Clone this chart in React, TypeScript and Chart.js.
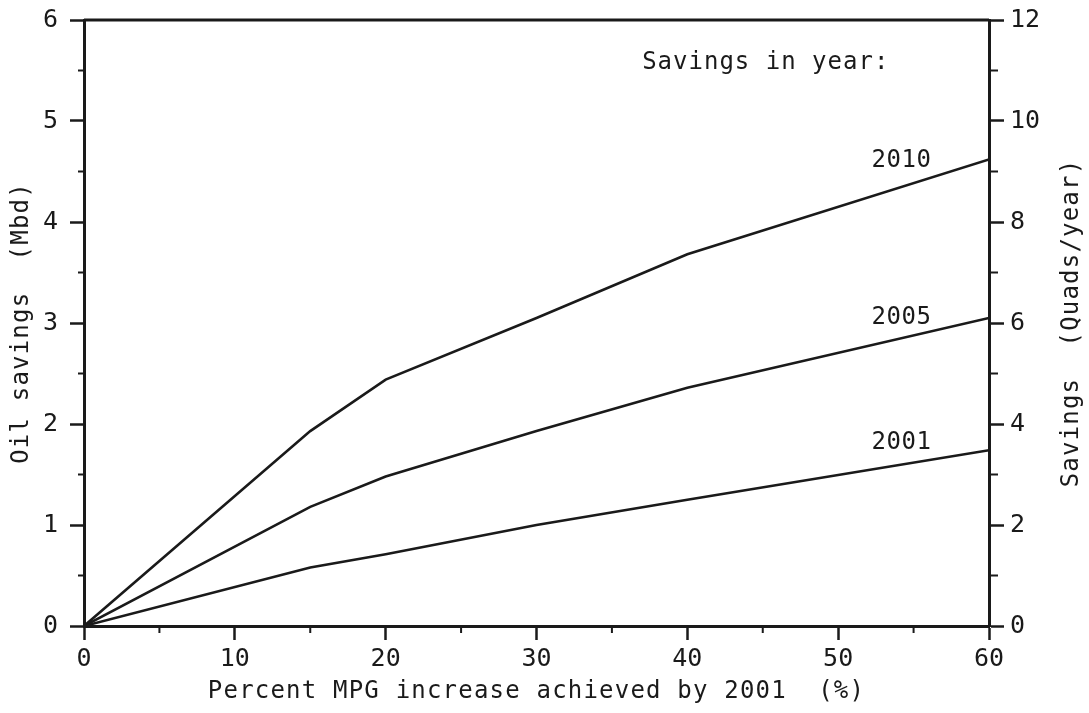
import React, { useEffect, useRef } from "react";
import { Chart, registerables } from "chart.js";

Chart.register(...registerables);

// ---- data ----
const mpgIncrease = [0, 15, 20, 30, 40, 60];
const savings2001 = [0, 0.58, 0.71, 1.0, 1.25, 1.74];
const savings2005 = [0, 1.18, 1.48, 1.93, 2.36, 3.05];
const savings2010 = [0, 1.93, 2.44, 3.05, 3.68, 4.62];
const seriesNames = ["2001", "2005", "2010"];

const leftTicks = [0, 1, 2, 3, 4, 5, 6];
const rightTicks = [0, 2, 4, 6, 8, 10, 12];
const xTicks = [0, 10, 20, 30, 40, 50, 60];
const leftMinor = [0.5, 1.5, 2.5, 3.5, 4.5, 5.5];
const rightMinor = [1, 3, 5, 7, 9, 11];
const xMinor = [5, 15, 25, 35, 45, 55];

const xTitle = "Percent MPG increase achieved by 2001  (%)";
const yTitle = "Oil savings  (Mbd)";
const y2Title = "Savings  (Quads/year)";
const legendTitle = "Savings in year:";

// annotation anchors in data units
const seriesLabelAt = { x: 54.2, y: [1.81, 3.05, 4.61] };
const legendTitleAt = { x: 45.2, y: 5.58 };

const INK = "#1a1a1a";
const FONT = "'DejaVu Sans Mono', monospace";

const setSpacing = (ctx: any, v: string) => {
  try {
    ctx.letterSpacing = v;
  } catch (e) {}
};

const decorPlugin = {
  id: "decor",
  afterDraw(chart: any) {
    const { ctx, chartArea } = chart;
    const x = chart.scales.x;
    const y = chart.scales.y;
    const y2 = chart.scales.y2;
    ctx.save();
    ctx.strokeStyle = INK;
    // top frame
    ctx.lineWidth = 3;
    ctx.beginPath();
    ctx.moveTo(chartArea.left, chartArea.top);
    ctx.lineTo(chartArea.right, chartArea.top);
    ctx.stroke();
    // minor ticks
    ctx.lineWidth = 2;
    ctx.beginPath();
    leftMinor.forEach((v) => {
      const p = y.getPixelForValue(v);
      ctx.moveTo(chartArea.left - 6, p);
      ctx.lineTo(chartArea.left, p);
    });
    rightMinor.forEach((v) => {
      const p = y2.getPixelForValue(v);
      ctx.moveTo(chartArea.right, p);
      ctx.lineTo(chartArea.right + 9, p);
    });
    xMinor.forEach((v) => {
      const p = x.getPixelForValue(v);
      ctx.moveTo(p, chartArea.bottom);
      ctx.lineTo(p, chartArea.bottom + 7);
    });
    ctx.stroke();

    ctx.fillStyle = INK;
    ctx.textAlign = "center";
    ctx.textBaseline = "middle";
    // series labels
    ctx.font = `24px ${FONT}`;
    setSpacing(ctx, "0.5px");
    seriesNames.forEach((name, i) => {
      ctx.fillText(
        name,
        x.getPixelForValue(seriesLabelAt.x),
        y.getPixelForValue(seriesLabelAt.y[i])
      );
    });
    setSpacing(ctx, "1px");
    ctx.fillText(
      legendTitle,
      x.getPixelForValue(legendTitleAt.x),
      y.getPixelForValue(legendTitleAt.y)
    );

    // axis titles
    ctx.font = `24px ${FONT}`;
    setSpacing(ctx, "1.2px");
    const cx = (chartArea.left + chartArea.right) / 2;
    const cy = (chartArea.top + chartArea.bottom) / 2;
    ctx.fillText(xTitle, cx, 692);
    ctx.save();
    ctx.translate(22, cy);
    ctx.rotate(-Math.PI / 2);
    ctx.fillText(yTitle, 0, 0);
    ctx.restore();
    ctx.save();
    ctx.translate(1072, cy);
    ctx.rotate(-Math.PI / 2);
    ctx.fillText(y2Title, 0, 0);
    ctx.restore();
    ctx.restore();
  },
};

export default function App() {
  const ref = useRef<HTMLCanvasElement | null>(null);
  useEffect(() => {
    if (!ref.current) return;
    const mk = (vals: number[]) => mpgIncrease.map((m, i) => ({ x: m, y: vals[i] }));
    const lineStyle = {
      borderColor: INK,
      borderWidth: 2.6,
      pointRadius: 0,
      tension: 0,
      fill: false,
    };
    const grid = {
      display: true,
      drawOnChartArea: false,
      drawTicks: true,
      tickLength: 14,
      tickWidth: 2.5,
      tickColor: INK,
      color: INK,
    };
    const border = { display: true, color: INK, width: 3 };
    const tickFont = { family: FONT, size: 25 };
    const chart = new Chart(ref.current, {
      type: "line",
      data: {
        datasets: [
          { label: seriesNames[0], data: mk(savings2001), ...lineStyle },
          { label: seriesNames[1], data: mk(savings2005), ...lineStyle },
          { label: seriesNames[2], data: mk(savings2010), ...lineStyle },
        ],
      },
      options: {
        animation: false,
        responsive: true,
        maintainAspectRatio: false,
        layout: { padding: { top: 20, left: 0, right: 0, bottom: 0 } },
        plugins: { legend: { display: false }, tooltip: { enabled: false } },
        scales: {
          x: {
            type: "linear",
            min: 0,
            max: 60,
            afterBuildTicks: (s: any) => {
              s.ticks = xTicks.map((v) => ({ value: v }));
            },
            afterFit: (s: any) => {
              s.height = 87;
              s.paddingLeft = 0;
              s.paddingRight = 0;
            },
            ticks: { font: tickFont, color: INK, padding: 4, maxRotation: 0, autoSkip: false },
            grid,
            border,
          },
          y: {
            type: "linear",
            position: "left",
            min: 0,
            max: 6,
            afterBuildTicks: (s: any) => {
              s.ticks = leftTicks.map((v) => ({ value: v }));
            },
            afterFit: (s: any) => {
              s.width = 84;
              s.paddingTop = 0;
              s.paddingBottom = 0;
            },
            ticks: { font: tickFont, color: INK, padding: 12 },
            grid,
            border,
          },
          y2: {
            type: "linear",
            position: "right",
            min: 0,
            max: 12,
            afterBuildTicks: (s: any) => {
              s.ticks = rightTicks.map((v) => ({ value: v }));
            },
            afterFit: (s: any) => {
              s.width = 100;
              s.paddingTop = 0;
              s.paddingBottom = 0;
            },
            ticks: { font: tickFont, color: INK, padding: 6 },
            grid: { ...grid, tickLength: 15 },
            border,
          },
        },
      },
      plugins: [decorPlugin],
    } as any);
    return () => chart.destroy();
  }, []);
  return (
    <div
      style={{
        position: "fixed",
        left: 0,
        top: 0,
        width: 1089,
        height: 713,
        background: "#fff",
      }}
    >
      <canvas ref={ref} />
    </div>
  );
}
